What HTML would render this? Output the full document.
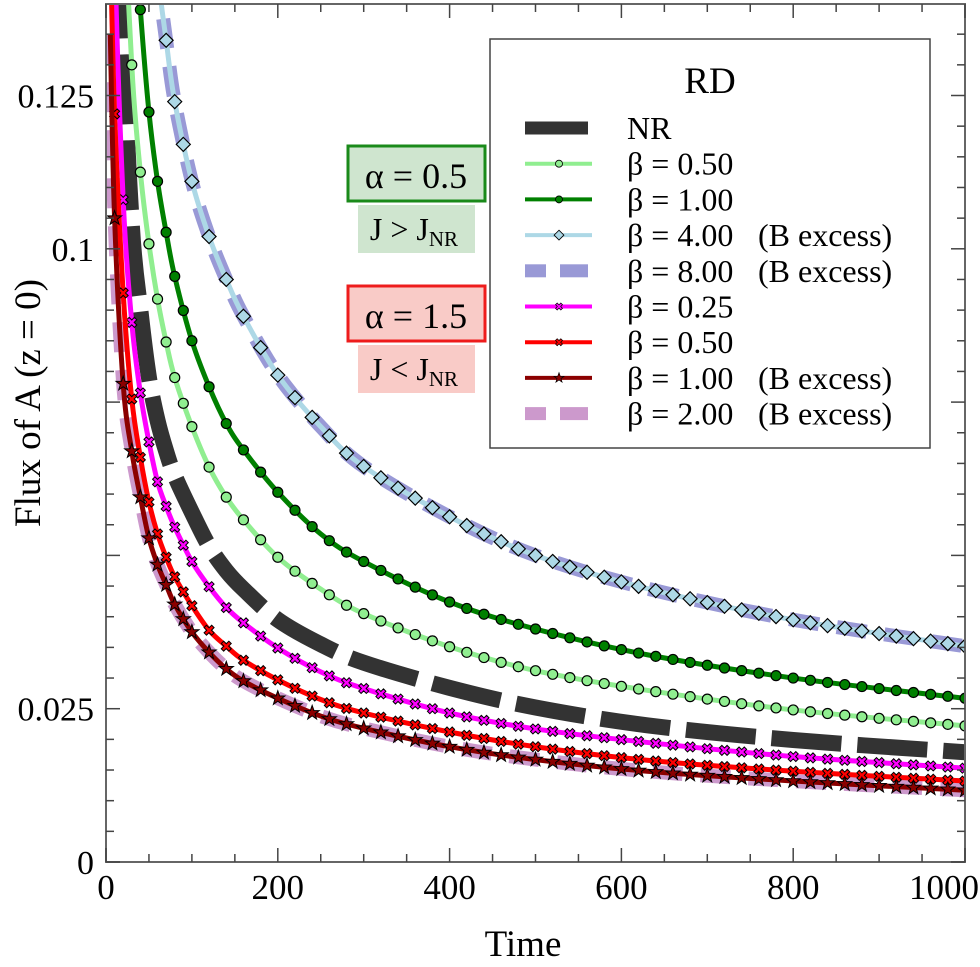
<!DOCTYPE html>
<html><head><meta charset="utf-8"><style>
body{margin:0;background:#fff;}
svg{display:block;font-family:"Liberation Serif",serif;}
</style></head><body>
<svg id="chart" width="980" height="967" viewBox="0 0 980 967">
<defs><clipPath id="clip"><rect x="106" y="4" width="860" height="858"/></clipPath></defs>
<g id="series" clip-path="url(#clip)"></g>
<g id="axes"></g>
<text x="523" y="956" font-size="37" text-anchor="middle">Time</text>
<text transform="translate(40,403) rotate(-90)" font-size="37" text-anchor="middle">Flux of A (z = 0)</text>
<g>
<rect x="348" y="146" width="137" height="55" fill="#cfe5cf" stroke="#1a8a1a" stroke-width="3"/>
<text x="416" y="188" font-size="36" text-anchor="middle">α = 0.5</text>
<rect x="358" y="205" width="117" height="48" fill="#cfe5cf"/>
<text x="414" y="240" font-size="32" text-anchor="middle">J &gt; J<tspan font-size="21" dy="6">NR</tspan></text>
</g>
<g>
<rect x="348" y="286" width="137" height="55" fill="#f9cbc7" stroke="#ee1c1c" stroke-width="3"/>
<text x="416" y="328" font-size="36" text-anchor="middle">α = 1.5</text>
<rect x="358" y="345" width="117" height="48" fill="#f9cbc7"/>
<text x="414" y="380" font-size="32" text-anchor="middle">J &lt; J<tspan font-size="21" dy="6">NR</tspan></text>
</g>
<g id="legend">
<rect x="490" y="39" width="440" height="409" fill="#fff" stroke="#444" stroke-width="1.5"/>
<text x="710" y="93" font-size="37" text-anchor="middle">RD</text>
</g>
</svg>
<script>
const times = [5,10,20,30,40,50,60,70,80,100,120,140,160,200,250,300,400,500,630,800,1000];
const nrVals      = [0.30,0.21,0.137,0.104,0.09,0.079,0.072,0.067,0.063,0.057,0.0515,0.0475,0.0445,0.0395,0.0355,0.0325,0.0284,0.0252,0.0223,0.0199,0.0179];
const lgreenVals  = [0.34,0.24,0.165,0.130,0.1125,0.1008,0.0918,0.0848,0.079,0.071,0.0644,0.0595,0.0558,0.0497,0.0445,0.0405,0.0351,0.0312,0.028,0.0248,0.0222];
const dgreenVals  = [0.42,0.30,0.20,0.16,0.139,0.1223,0.111,0.1027,0.0955,0.085,0.0775,0.0715,0.0672,0.0603,0.0535,0.049,0.0424,0.038,0.0338,0.030,0.0267];
const lblueVals   = [0.56,0.40,0.28,0.22,0.185,0.16,0.145,0.134,0.124,0.111,0.102,0.095,0.089,0.0794,0.071,0.0645,0.0563,0.050,0.0446,0.0395,0.0352];
const magentaVals = [0.21,0.15,0.108,0.088,0.0765,0.0685,0.062,0.058,0.0546,0.049,0.0449,0.0415,0.039,0.0349,0.031,0.0283,0.0243,0.0217,0.0195,0.0172,0.0153];
const redVals     = [0.15,0.122,0.0928,0.0755,0.066,0.0587,0.0535,0.0497,0.0465,0.0418,0.0378,0.0352,0.0329,0.0297,0.0265,0.0243,0.0212,0.0188,0.0166,0.0148,0.0132];
const dredVals    = [0.135,0.105,0.078,0.067,0.0595,0.0528,0.0485,0.0452,0.042,0.0375,0.0342,0.0315,0.0295,0.0267,0.0238,0.0218,0.0188,0.0167,0.0148,0.0132,0.0117];
const xTicks = [0,200,400,600,800,1000];
const yTicks = [0,0.025,0.1,0.125];
const yTickLabels = ["0","0.025","0.1","0.125"];

const NS="http://www.w3.org/2000/svg";
const X0=106,X1=965,Y0=862,PXU=6132;
const sx=t=>X0+(X1-X0)*t/1000;
const sy=v=>Y0-v*PXU;
function mk(tag,attrs,parent){const e=document.createElementNS(NS,tag);for(const k in attrs)e.setAttribute(k,attrs[k]);parent.appendChild(e);return e;}
function pts(vals){return times.map((t,i)=>[sx(t),sy(vals[i])]);}
function pathD(vals){
  const p=pts(vals);
  let d="M"+p[0][0]+","+p[0][1];
  for(let i=0;i<p.length-1;i++){
    const p0=p[Math.max(0,i-1)],p1=p[i],p2=p[i+1],p3=p[Math.min(p.length-1,i+2)];
    const c1=[p1[0]+(p2[0]-p0[0])/6,p1[1]+(p2[1]-p0[1])/6];
    const c2=[p2[0]-(p3[0]-p1[0])/6,p2[1]-(p3[1]-p1[1])/6];
    d+=" C"+c1[0]+","+c1[1]+" "+c2[0]+","+c2[1]+" "+p2[0]+","+p2[1];
  }
  return d;
}
function yAtX(path,x){
  let lo=0,hi=path.getTotalLength();
  for(let k=0;k<40;k++){const m=(lo+hi)/2;const p=path.getPointAtLength(m);if(p.x<x)lo=m;else hi=m;}
  return path.getPointAtLength((lo+hi)/2).y;
}
function marker(kind,x,y,fill,parent){
  let e;
  if(kind==="circle") e=mk("circle",{cx:x,cy:y,r:5,fill:fill,stroke:"#000","stroke-width":1.2},parent);
  else if(kind==="diamond") e=mk("path",{d:`M${x},${y-7}L${x+7},${y}L${x},${y+7}L${x-7},${y}Z`,fill:fill,stroke:"#000","stroke-width":1.2},parent);
  else if(kind==="cross"){const s=5,w=2.4;e=mk("path",{d:`M${x-s},${y-s+w}L${x-s+w},${y-s}L${x},${y-w}L${x+s-w},${y-s}L${x+s},${y-s+w}L${x+w},${y}L${x+s},${y+s-w}L${x+s-w},${y+s}L${x},${y+w}L${x-s+w},${y+s}L${x-s},${y+s-w}L${x-w},${y}Z`,fill:fill,stroke:"#000","stroke-width":1},parent);}
  else {let d="";for(let k=0;k<10;k++){const r=k%2?3:7.5,a=-Math.PI/2+k*Math.PI/5;d+=(k?"L":"M")+(x+r*Math.cos(a))+","+(y+r*Math.sin(a));}e=mk("path",{d:d+"Z",fill:fill,stroke:"#000","stroke-width":1},parent);}
  return e;
}
const series=[
 {name:"series-b2-00-excess",vals:dredVals,color:"#cc99cc",w:14,dash:"30 18"},
 {name:"series-b8-00-excess",vals:lblueVals,color:"#9999d6",w:14,dash:"30 18"},
 {name:"series-nr",vals:nrVals,color:"#333333",w:16,dash:"70 16"},
 {name:"series-b0-50-alpha05",vals:lgreenVals,color:"#90ee90",w:5,mk:"circle",mf:"#90ee90"},
 {name:"series-b1-00-alpha05",vals:dgreenVals,color:"#008000",w:5,mk:"circle",mf:"#008000"},
 {name:"series-b4-00-excess",vals:lblueVals,color:"#add8e6",w:5,mk:"diamond",mf:"#add8e6"},
 {name:"series-b0-25-alpha15",vals:magentaVals,color:"#ff00ff",w:5,mk:"cross",mf:"#ff00ff"},
 {name:"series-b0-50-alpha15",vals:redVals,color:"#ff0000",w:5,mk:"cross",mf:"#ff0000"},
 {name:"series-b1-00-excess-alpha15",vals:dredVals,color:"#8b0000",w:5,mk:"star",mf:"#8b0000"}
];
const markerTimes=[];
for(let t=10;t<100;t+=10)markerTimes.push(t);
for(let t=100;t<=1000;t+=20)markerTimes.push(t);
const sg=document.getElementById("series");
series.forEach(s=>{
  const g=mk("g",{},sg);
  
  
  const p=mk("path",{d:pathD(s.vals),fill:"none",stroke:s.color,"stroke-width":s.w},g);
  if(s.dash)p.setAttribute("stroke-dasharray",s.dash);
  
  
  if(s.mk){
    markerTimes.forEach(t=>{
      const x=sx(t),y=yAtX(p,x);
      if(y<2)return;
      const m=marker(s.mk,x,y,s.mf,g);
      
      
    });
  }
});
const ax=document.getElementById("axes");
mk("rect",{x:X0,y:4,width:X1-X0,height:Y0-4,fill:"none",stroke:"#666","stroke-width":2},ax);
for(let t=0;t<=1000;t+=50){
  const x=sx(t),L=t%200===0?14:8;
  const a=mk("line",{x1:x,y1:Y0,x2:x,y2:Y0-L,stroke:"#444","stroke-width":1.5},ax);
  
  mk("line",{x1:x,y1:4,x2:x,y2:4+L,stroke:"#444","stroke-width":1.5},ax);
}
for(let k=0;k<=27;k++){
  const v=k*0.005,y=sy(v),L=(k%5===0)?14:8;
  if(y<4)break;
  const a=mk("line",{x1:X0,y1:y,x2:X0+L,y2:y,stroke:"#444","stroke-width":1.5},ax);
  
  mk("line",{x1:X1,y1:y,x2:X1-L,y2:y,stroke:"#444","stroke-width":1.5},ax);
}
xTicks.forEach(t=>{
  const last=(t===xTicks[xTicks.length-1]);
  const e=mk("text",{x:last?979:sx(t),y:899,"font-size":35,"text-anchor":last?"end":"middle"},ax);e.textContent=t;
  
});
yTicks.forEach((v,i)=>{
  const e=mk("text",{x:94,y:sy(v)+12,"font-size":34,"text-anchor":"end"},ax);e.textContent=yTickLabels[i];
  
});
const lg=document.getElementById("legend");
const leg=[
 {t:"NR",c:"#333333",w:13,dash:true},
 {t:"β = 0.50",c:"#90ee90",w:4,mk:"circle"},
 {t:"β = 1.00",c:"#008000",w:4,mk:"circle"},
 {t:"β = 4.00",c:"#add8e6",w:4,mk:"diamond",ex:1},
 {t:"β = 8.00",c:"#9999d6",w:13,dash2:true,ex:1},
 {t:"β = 0.25",c:"#ff00ff",w:4,mk:"cross"},
 {t:"β = 0.50",c:"#ff0000",w:4,mk:"cross"},
 {t:"β = 1.00",c:"#8b0000",w:4,mk:"star",ex:1},
 {t:"β = 2.00",c:"#cc99cc",w:13,dash2:true,ex:1}
];
leg.forEach((e,i)=>{
  const y=128+i*35.7;
  const g=mk("g",{},lg);
  
  
  if(e.dash2){mk("rect",{x:525,y:y-6.5,width:21,height:13,fill:e.c},g);mk("rect",{x:560,y:y-6.5,width:28,height:13,fill:e.c},g);}
  else if(e.dash){mk("rect",{x:525,y:y-6.5,width:63,height:13,fill:e.c},g);}
  else {mk("line",{x1:525,y1:y,x2:592,y2:y,stroke:e.c,"stroke-width":e.w},g);marker(e.mk,559,y,e.c,g).setAttribute("transform",`translate(559,${y}) scale(0.7) translate(-559,${-y})`);}
  const tx=mk("text",{x:627,y:y+11,"font-size":32},g);tx.textContent=e.t;
  if(e.ex){const t2=mk("text",{x:758,y:y+11,"font-size":32},g);t2.textContent="(B excess)";}
});
</script>
</body></html>
